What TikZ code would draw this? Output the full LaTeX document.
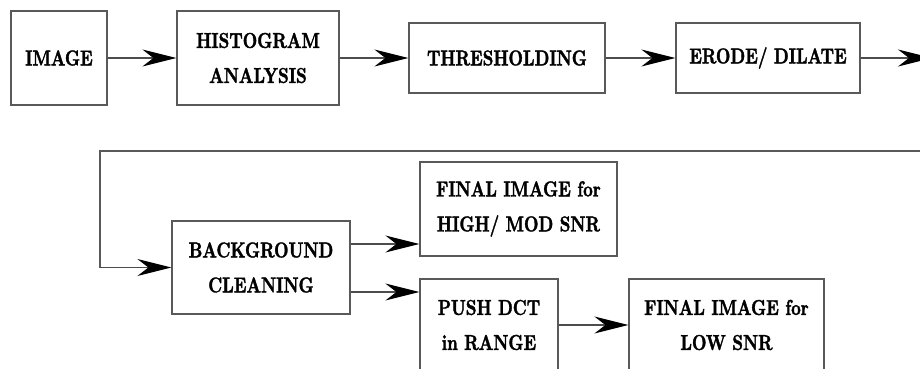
\documentclass[tikz,border=0pt]{standalone}
\usepackage{fontspec}
% heavy, slightly condensed face for the stage labels
\newfontfamily\stagefont{lmroman10-bold.otf}[FakeStretch=0.78,FakeBold=1.6]
\usetikzlibrary{arrows.meta,calc}
\begin{document}
\begin{tikzpicture}[x=1pt,y=-1pt,
  blk/.style={draw=black!65,line width=1.2pt,fill=white,inner sep=0pt,
    align=center,font=\stagefont\fontsize{21.5}{35}\selectfont},
  arr/.style={draw=black!70,line width=1.1pt,
    -{Stealth[length=34pt,width=17pt,inset=11pt,color=black]}},
  lnk/.style={draw=black!65,line width=1.2pt}]
\useasboundingbox (0,0) rectangle (920,369);
\clip (0,0) rectangle (920,369);

% first row of stages
\node[blk,minimum width=96pt,minimum height=94pt] (img) at (59,58) {IMAGE};
\node[blk,minimum width=162pt,minimum height=94pt] (hist) at (258,58) {HISTOGRAM\\ANALYSIS};
\node[blk,minimum width=196pt,minimum height=70pt] (thr) at (507,58) {THRESHOLDING};
\node[blk,minimum width=184pt,minimum height=70pt] (ero) at (768,58) {ERODE/ DILATE};

% second row of stages
\node[blk,minimum width=178pt,minimum height=93pt] (bg) at (261,267.5) {BACKGROUND\\CLEANING};
\node[blk,minimum width=197pt,minimum height=94pt] (high) at (518.5,209) {FINAL IMAGE for\\HIGH/ MOD SNR};
\node[blk,minimum width=138pt,minimum height=92pt] (push) at (489,325) {PUSH DCT\\in RANGE};
\node[blk,minimum width=195pt,minimum height=92pt] (low) at (726.5,325) {FINAL IMAGE for\\LOW SNR};

% connectors of the first row
\draw[arr] (img) -- (hist);
\draw[arr] (hist) -- (thr);
\draw[arr] (thr) -- (ero);
\coordinate (out) at (932,58);
\draw[arr] (ero) -- (out);

% wrap-around line into background cleaning
\coordinate (ret) at (930,151);
\coordinate (corner) at (100,151);
\draw[lnk] (ret) -- (corner) -- (corner |- bg.west);
\coordinate (entry) at (corner |- bg.west);
\draw[arr] (entry) -- (bg.west);

% branches out of background cleaning
\coordinate (b1) at ([yshift=23.5pt]bg.east);
\coordinate (b2) at ([yshift=-24.5pt]bg.east);
\draw[arr] (b1) -- (b1 -| high.west);
\draw[arr] (b2) -- (b2 -| push.west);
\draw[arr] (push) -- (low);
\end{tikzpicture}
\end{document}
